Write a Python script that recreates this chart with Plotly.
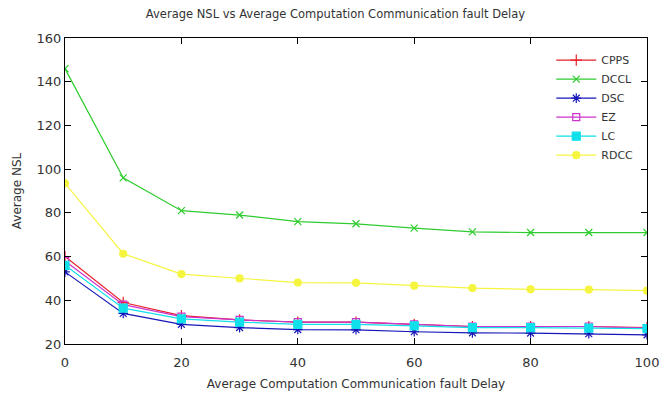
import plotly.graph_objects as go

delay = [0, 10, 20, 30, 40, 50, 60, 70, 80, 90, 100]

cpps = [60, 39, 33, 31, 30, 30, 29, 28, 28, 28, 27.5]
dccl = [146, 96, 81, 79, 76, 75, 73, 71.3, 71, 71, 71]
dsc = [53, 34, 29, 27.5, 26.6, 26.5, 25.6, 25.1, 25, 24.7, 24.2]
ez = [58, 38, 32.5, 31, 30, 30, 29, 28, 28, 28, 27.3]
lc = [56, 36.4, 31.5, 30, 29, 29, 28.3, 27.5, 27.5, 27.3, 27]
rdcc = [93.5, 61.3, 52, 50, 48.1, 48, 46.7, 45.6, 45, 44.9, 44.4]

series = [
    ("CPPS", cpps, "#e8202a", "cross-thin-open", 8),
    ("DCCL", dccl, "#2ecc2e", "x-thin-open", 7),
    ("DSC", dsc, "#1616b8", "asterisk-open", 8),
    ("EZ", ez, "#cc33cc", "square-open", 7),
    ("LC", lc, "#11e0ea", "square", 8),
    ("RDCC", rdcc, "#f5f540", "circle", 7),
]

fig = go.Figure()
for name, vals, color, sym, size in series:
    fig.add_trace(go.Scatter(
        x=delay, y=vals, name=name, mode="lines+markers",
        line=dict(color=color, width=1.2),
        marker=dict(symbol=sym, size=size, color=color,
                    line=dict(color=color, width=1.2)),
    ))

font = "DejaVu Sans, Verdana, sans-serif"
axis_common = dict(
    showline=True, linecolor="black", linewidth=1.2, mirror="ticks",
    ticks="inside", ticklen=6, tickcolor="black", showgrid=False,
    zeroline=False, tickfont=dict(family=font, size=13, color="#333333"),
)

fig.update_layout(
    width=671, height=401,
    margin=dict(l=65, r=14, t=38, b=57),
    paper_bgcolor="white", plot_bgcolor="white",
    title=dict(text="Average NSL vs Average Computation Communication fault Delay",
               x=0.5, xanchor="center", y=0.965, yanchor="middle",
               font=dict(family=font, size=11.5, color="#333333")),
    xaxis=dict(range=[0, 100], tickvals=[0, 20, 40, 60, 80, 100],
               ticklabelstandoff=6,
               title=dict(text="Average Computation Communication fault Delay",
                          font=dict(family=font, size=12, color="#333333"),
                          standoff=10),
               **axis_common),
    yaxis=dict(range=[20, 160], tickvals=[20, 40, 60, 80, 100, 120, 140, 160],
               title=dict(text="Average NSL",
                          font=dict(family=font, size=12, color="#333333"),
                          standoff=12),
               **axis_common),
    legend=dict(x=0.985, y=0.975, xanchor="right", yanchor="top",
                bgcolor="rgba(255,255,255,0)", borderwidth=0,
                font=dict(family=font, size=11, color="#333333"),
                tracegroupgap=0, itemwidth=40),
    showlegend=True,
)

fig.write_html("out.html")
